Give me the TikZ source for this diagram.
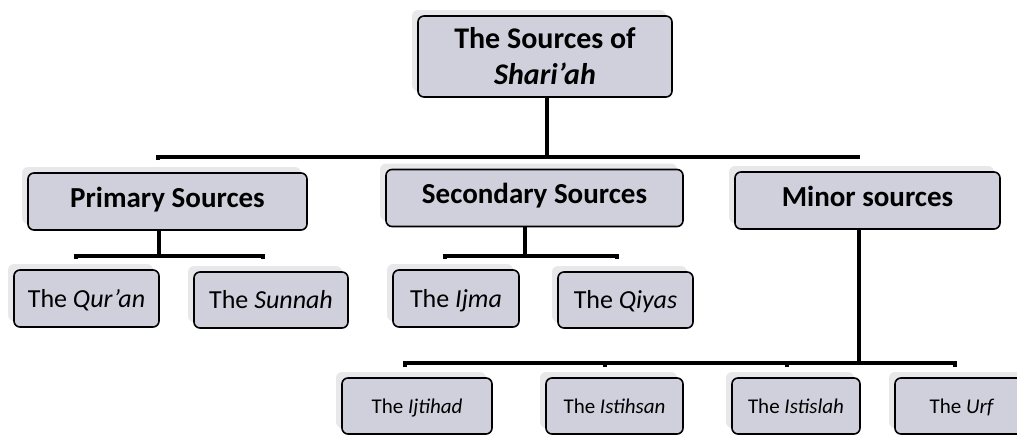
\documentclass[tikz,border=0pt]{standalone}
\usepackage{fontspec}
\setmainfont{Carlito}
\usetikzlibrary{shadows}
\definecolor{boxfill}{RGB}{208,207,220}
\definecolor{ghost}{RGB}{232,232,234}
\begin{document}
\begin{tikzpicture}[x=1pt,y=1pt,
  srcbox/.style={draw=black, line width=1.6pt, fill=boxfill, rounded corners=6pt,
    inner sep=0pt, align=center, text=black,
    general shadow={fill=ghost, draw=none, shadow xshift=-6pt, shadow yshift=6pt}},
  headbox/.style={srcbox, font=\fontsize{29}{35}\selectfont\bfseries, minimum height=57pt,
    text height=20pt, text depth=9pt},
  midbox/.style={srcbox, font=\fontsize{26}{31}\selectfont, minimum height=57pt,
    text height=20pt, text depth=3pt},
  lowbox/.style={srcbox, font=\fontsize{21}{25}\selectfont, minimum height=56pt,
    text height=18pt, text depth=3.5pt},
  titlebox/.style={srcbox, font=\fontsize{30}{36}\selectfont\bfseries},
  link/.style={line width=4pt, black}]
\useasboundingbox (0,0) rectangle (1017,-434);

\node[titlebox, minimum width=254pt, minimum height=81pt]
  (top) at (545,-56.5) {The Sources of\\\textit{Shari’ah}};

\node[headbox, minimum width=279pt] (prim) at (167.5,-201.5) {Primary Sources};
\node[headbox, minimum width=297pt] (sec) at (534.5,-198) {Secondary Sources};
\node[headbox, minimum width=265pt] (minor) at (867.5,-200.5) {Minor sources};

\node[midbox, minimum width=145pt] (quran) at (86.5,-298.5) {The \textit{Qur’an}};
\node[midbox, minimum width=154pt, minimum height=56pt] (sunnah) at (271,-300) {The \textit{Sunnah}};
\node[midbox, minimum width=126pt] (ijma) at (456,-298.5) {The \textit{Ijma}};
\node[midbox, minimum width=135pt, minimum height=56pt] (qiyas) at (625.5,-300) {The \textit{Qiyas}};

\node[lowbox, minimum width=150pt] (ijtihad) at (417,-406) {The \textit{Ijtihad}};
\node[lowbox, minimum width=137pt] (istihsan) at (614.5,-406) {The \textit{Istihsan}};
\node[lowbox, minimum width=128pt] (istislah) at (796,-406) {The \textit{Istislah}};
\node[lowbox, minimum width=134pt] (urf) at (962,-406) {The \textit{Urf}};

% top level
\coordinate (j0) at (547,-157);
\draw[link] (top.south -| j0) -- (j0);
\draw[link] ([xshift=-9.5pt,yshift=12pt]prim.north) |- (j0) -| ([xshift=-9.5pt,yshift=12pt]minor.north);
\draw[link] ([xshift=-9.5pt,yshift=12pt]sec.north) -- ([xshift=-9.5pt]sec.north |- j0);

% primary
\coordinate (j1) at (159,-256);
\draw[link] (prim.south -| j1) -- (j1);
\draw[link] ([xshift=-10.5pt,yshift=10pt]quran.north) |- (j1) -| ([xshift=-8pt,yshift=12pt]sunnah.north);

% secondary
\coordinate (j2) at (525,-256);
\draw[link] (sec.south -| j2) -- (j2);
\draw[link] ([xshift=-11pt,yshift=10pt]ijma.north) |- (j2) -| ([xshift=-8.5pt,yshift=12pt]qiyas.north);

% minor
\coordinate (j3) at (859,-363);
\draw[link] (minor.south -| j3) -- (j3);
\draw[link] ([xshift=-12pt,yshift=10pt]ijtihad.north) |- (j3) -| ([xshift=-7pt,yshift=10pt]urf.north);
\draw[link] ([xshift=-9.5pt,yshift=10pt]istihsan.north) -- ([xshift=-9.5pt]istihsan.north |- j3);
\draw[link] ([xshift=-9pt,yshift=10pt]istislah.north) -- ([xshift=-9pt]istislah.north |- j3);
\end{tikzpicture}
\end{document}
